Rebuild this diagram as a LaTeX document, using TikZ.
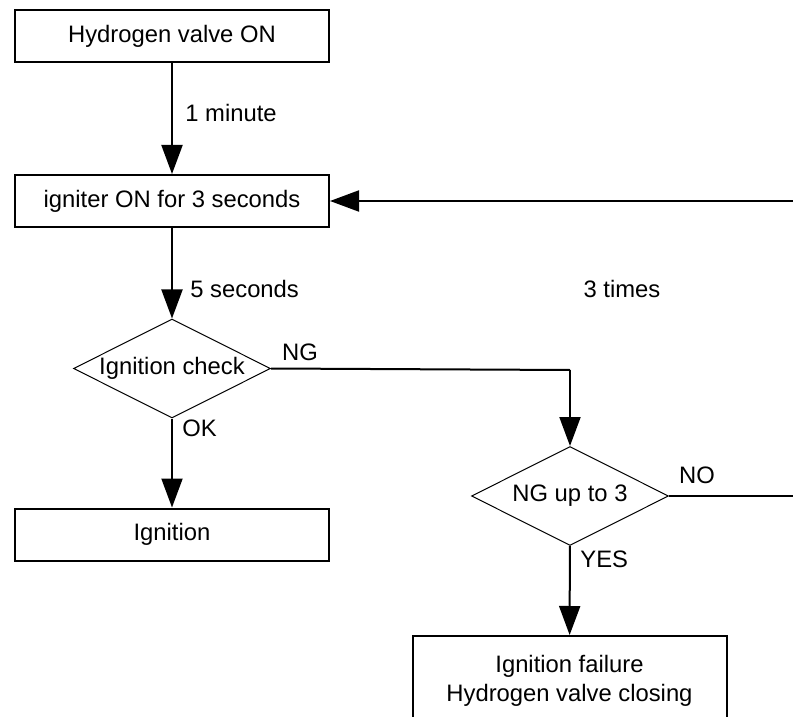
\documentclass[tikz,border=0pt]{standalone}
\usepackage{fontspec}
\setmainfont{Liberation Sans}
\usetikzlibrary{shapes.geometric,arrows.meta}

\begin{document}
\begin{tikzpicture}[x=0.5pt, y=-0.5pt,
    font=\fontsize{11.9}{14.2}\selectfont,
    stepBox/.style={rectangle, draw=black, line width=1pt, minimum width=157pt, minimum height=26pt, inner sep=2pt},
    checkBox/.style={diamond, draw=black, line width=0.5pt, aspect=2, minimum width=98.5pt, minimum height=49.5pt, inner sep=0pt},
    flow/.style={line width=1pt, -{Triangle[length=14.5pt, width=10.5pt]}},
    plain/.style={line width=1pt},
    lbl/.style={inner sep=0pt}]

    \useasboundingbox (0,0) rectangle (793,717);
    \clip (0,0) rectangle (793,717);

    % Main steps
    \node[stepBox] (valveOn) at (172, 36) {Hydrogen valve ON};
    \node[stepBox] (igniterOn) at (172, 201) {igniter ON for 3 seconds};
    \node[checkBox] (check) at (172, 368.5) {Ignition check};
    \node[stepBox] (ignition) at (172, 534.5) {Ignition};

    % Retry branch
    \node[checkBox] (retry) at (570, 496) {NG up to 3};
    \node[stepBox, minimum height=45pt, align=center] (failure) at (569.5, 681) {Ignition failure\\Hydrogen valve closing};
    \coordinate (corner) at (570, 370);

    % Connectors
    \draw[flow] (valveOn) -- (igniterOn);
    \draw[flow] (igniterOn) -- (check);
    \draw[flow] (check) -- (ignition);
    \draw[plain] (check.east) -- (corner);
    \draw[flow] (corner) -- (retry);
    \draw[flow] (retry) -- (failure);
    \draw[flow] (retry.east) -- ++(135,0) |- (igniterOn.east);

    % Labels
    \node[lbl, anchor=west] (lblMinute) at (185, 113) {1 minute};
    \node[lbl, anchor=west] (lblSeconds) at (190, 289) {5 seconds};
    \node[lbl] (lblTimes) at (622, 289) {3 times};
    \node[lbl] (lblNG) at (300, 352) {NG};
    \node[lbl, anchor=west] (lblOK) at (182, 428) {OK};
    \node[lbl] (lblNO) at (697, 475) {NO};
    \node[lbl, anchor=west] (lblYES) at (580, 559) {YES};

\end{tikzpicture}
\end{document}
